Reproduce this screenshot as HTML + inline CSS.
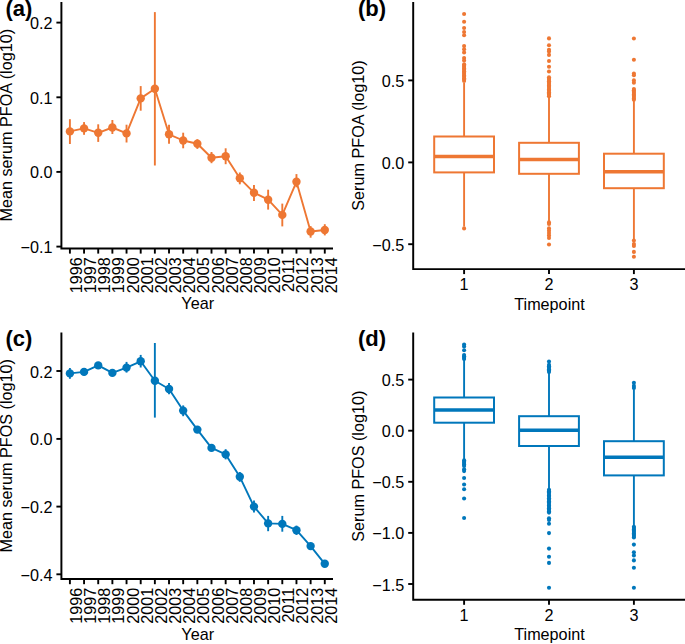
<!DOCTYPE html>
<html><head><meta charset="utf-8"><style>
html,body{margin:0;padding:0;background:#fff;width:685px;height:644px;overflow:hidden}
svg{display:block}
text{font-family:"Liberation Sans",sans-serif;fill:#000}
</style></head><body>
<svg width="685" height="644" viewBox="0 0 685 644">
<rect width="685" height="644" fill="#fff"/>
<path d="M61.4 2 V248.4 H333" fill="none" stroke="#000" stroke-width="1.95" stroke-linejoin="miter" stroke-linecap="butt"/>
<line x1="56.4" y1="22.6" x2="61.4" y2="22.6" stroke="#000" stroke-width="1.9"/>
<text x="52.4" y="29.1" text-anchor="end" font-size="16.2">0.2</text>
<line x1="56.4" y1="97.3" x2="61.4" y2="97.3" stroke="#000" stroke-width="1.9"/>
<text x="52.4" y="103.8" text-anchor="end" font-size="16.2">0.1</text>
<line x1="56.4" y1="171.9" x2="61.4" y2="171.9" stroke="#000" stroke-width="1.9"/>
<text x="52.4" y="178.4" text-anchor="end" font-size="16.2">0.0</text>
<line x1="56.4" y1="246.6" x2="61.4" y2="246.6" stroke="#000" stroke-width="1.9"/>
<text x="52.4" y="253.1" text-anchor="end" font-size="16.2">&#8722;0.1</text>
<line x1="69.9" y1="248.4" x2="69.9" y2="253.6" stroke="#000" stroke-width="1.9"/>
<text transform="translate(81.9,257.2) rotate(-90)" text-anchor="end" font-size="16.2">1996</text>
<line x1="84.06" y1="248.4" x2="84.06" y2="253.6" stroke="#000" stroke-width="1.9"/>
<text transform="translate(96.06,257.2) rotate(-90)" text-anchor="end" font-size="16.2">1997</text>
<line x1="98.22" y1="248.4" x2="98.22" y2="253.6" stroke="#000" stroke-width="1.9"/>
<text transform="translate(110.22,257.2) rotate(-90)" text-anchor="end" font-size="16.2">1998</text>
<line x1="112.38" y1="248.4" x2="112.38" y2="253.6" stroke="#000" stroke-width="1.9"/>
<text transform="translate(124.38,257.2) rotate(-90)" text-anchor="end" font-size="16.2">1999</text>
<line x1="126.54" y1="248.4" x2="126.54" y2="253.6" stroke="#000" stroke-width="1.9"/>
<text transform="translate(138.54,257.2) rotate(-90)" text-anchor="end" font-size="16.2">2000</text>
<line x1="140.7" y1="248.4" x2="140.7" y2="253.6" stroke="#000" stroke-width="1.9"/>
<text transform="translate(152.7,257.2) rotate(-90)" text-anchor="end" font-size="16.2">2001</text>
<line x1="154.86" y1="248.4" x2="154.86" y2="253.6" stroke="#000" stroke-width="1.9"/>
<text transform="translate(166.86,257.2) rotate(-90)" text-anchor="end" font-size="16.2">2002</text>
<line x1="169.02" y1="248.4" x2="169.02" y2="253.6" stroke="#000" stroke-width="1.9"/>
<text transform="translate(181.02,257.2) rotate(-90)" text-anchor="end" font-size="16.2">2003</text>
<line x1="183.18" y1="248.4" x2="183.18" y2="253.6" stroke="#000" stroke-width="1.9"/>
<text transform="translate(195.18,257.2) rotate(-90)" text-anchor="end" font-size="16.2">2004</text>
<line x1="197.34" y1="248.4" x2="197.34" y2="253.6" stroke="#000" stroke-width="1.9"/>
<text transform="translate(209.34,257.2) rotate(-90)" text-anchor="end" font-size="16.2">2005</text>
<line x1="211.5" y1="248.4" x2="211.5" y2="253.6" stroke="#000" stroke-width="1.9"/>
<text transform="translate(223.5,257.2) rotate(-90)" text-anchor="end" font-size="16.2">2006</text>
<line x1="225.66" y1="248.4" x2="225.66" y2="253.6" stroke="#000" stroke-width="1.9"/>
<text transform="translate(237.66,257.2) rotate(-90)" text-anchor="end" font-size="16.2">2007</text>
<line x1="239.82" y1="248.4" x2="239.82" y2="253.6" stroke="#000" stroke-width="1.9"/>
<text transform="translate(251.82,257.2) rotate(-90)" text-anchor="end" font-size="16.2">2008</text>
<line x1="253.98" y1="248.4" x2="253.98" y2="253.6" stroke="#000" stroke-width="1.9"/>
<text transform="translate(265.98,257.2) rotate(-90)" text-anchor="end" font-size="16.2">2009</text>
<line x1="268.14" y1="248.4" x2="268.14" y2="253.6" stroke="#000" stroke-width="1.9"/>
<text transform="translate(280.14,257.2) rotate(-90)" text-anchor="end" font-size="16.2">2010</text>
<line x1="282.3" y1="248.4" x2="282.3" y2="253.6" stroke="#000" stroke-width="1.9"/>
<text transform="translate(294.3,257.2) rotate(-90)" text-anchor="end" font-size="16.2">2011</text>
<line x1="296.46" y1="248.4" x2="296.46" y2="253.6" stroke="#000" stroke-width="1.9"/>
<text transform="translate(308.46,257.2) rotate(-90)" text-anchor="end" font-size="16.2">2012</text>
<line x1="310.62" y1="248.4" x2="310.62" y2="253.6" stroke="#000" stroke-width="1.9"/>
<text transform="translate(322.62,257.2) rotate(-90)" text-anchor="end" font-size="16.2">2013</text>
<line x1="324.78" y1="248.4" x2="324.78" y2="253.6" stroke="#000" stroke-width="1.9"/>
<text transform="translate(336.78,257.2) rotate(-90)" text-anchor="end" font-size="16.2">2014</text>
<text transform="translate(12,125.2) rotate(-90)" text-anchor="middle" font-size="16.2">Mean serum PFOA (log10)</text>
<text x="197.7" y="309.4" text-anchor="middle" font-size="16.2">Year</text>
<text x="5.5" y="15.7" text-anchor="start" font-size="22" font-weight="bold">(a)</text>
<path d="M69.9 131.4 L84.06 128.4 L98.22 132.8 L112.38 127.5 L126.54 133.4 L140.7 98.4 L154.86 88.8 L169.02 134.3 L183.18 140.5 L197.34 143.8 L211.5 157.8 L225.66 156.3 L239.82 178.3 L253.98 192.7 L268.14 199.7 L282.3 214.9 L296.46 181.8 L310.62 231.5 L324.78 230" fill="none" stroke="#EE7733" stroke-width="1.9" stroke-linejoin="round"/>
<line x1="69.9" y1="119.2" x2="69.9" y2="144" stroke="#EE7733" stroke-width="1.9"/>
<circle cx="69.9" cy="131.4" r="4.2" fill="#EE7733"/>
<line x1="84.06" y1="122.1" x2="84.06" y2="134.8" stroke="#EE7733" stroke-width="1.9"/>
<circle cx="84.06" cy="128.4" r="4.2" fill="#EE7733"/>
<line x1="98.22" y1="124.3" x2="98.22" y2="141.9" stroke="#EE7733" stroke-width="1.9"/>
<circle cx="98.22" cy="132.8" r="4.2" fill="#EE7733"/>
<line x1="112.38" y1="120" x2="112.38" y2="134" stroke="#EE7733" stroke-width="1.9"/>
<circle cx="112.38" cy="127.5" r="4.2" fill="#EE7733"/>
<line x1="126.54" y1="124.7" x2="126.54" y2="142.5" stroke="#EE7733" stroke-width="1.9"/>
<circle cx="126.54" cy="133.4" r="4.2" fill="#EE7733"/>
<line x1="140.7" y1="86.1" x2="140.7" y2="110.7" stroke="#EE7733" stroke-width="1.9"/>
<circle cx="140.7" cy="98.4" r="4.2" fill="#EE7733"/>
<line x1="154.86" y1="12.1" x2="154.86" y2="165.5" stroke="#EE7733" stroke-width="1.9"/>
<circle cx="154.86" cy="88.8" r="4.2" fill="#EE7733"/>
<line x1="169.02" y1="124.7" x2="169.02" y2="143.8" stroke="#EE7733" stroke-width="1.9"/>
<circle cx="169.02" cy="134.3" r="4.2" fill="#EE7733"/>
<line x1="183.18" y1="132.7" x2="183.18" y2="148.3" stroke="#EE7733" stroke-width="1.9"/>
<circle cx="183.18" cy="140.5" r="4.2" fill="#EE7733"/>
<line x1="197.34" y1="139.2" x2="197.34" y2="148.9" stroke="#EE7733" stroke-width="1.9"/>
<circle cx="197.34" cy="143.8" r="4.2" fill="#EE7733"/>
<line x1="211.5" y1="152" x2="211.5" y2="163.2" stroke="#EE7733" stroke-width="1.9"/>
<circle cx="211.5" cy="157.8" r="4.2" fill="#EE7733"/>
<line x1="225.66" y1="148.3" x2="225.66" y2="164.2" stroke="#EE7733" stroke-width="1.9"/>
<circle cx="225.66" cy="156.3" r="4.2" fill="#EE7733"/>
<line x1="239.82" y1="172.5" x2="239.82" y2="184.3" stroke="#EE7733" stroke-width="1.9"/>
<circle cx="239.82" cy="178.3" r="4.2" fill="#EE7733"/>
<line x1="253.98" y1="184.9" x2="253.98" y2="200.9" stroke="#EE7733" stroke-width="1.9"/>
<circle cx="253.98" cy="192.7" r="4.2" fill="#EE7733"/>
<line x1="268.14" y1="189.7" x2="268.14" y2="209.6" stroke="#EE7733" stroke-width="1.9"/>
<circle cx="268.14" cy="199.7" r="4.2" fill="#EE7733"/>
<line x1="282.3" y1="203.6" x2="282.3" y2="226.4" stroke="#EE7733" stroke-width="1.9"/>
<circle cx="282.3" cy="214.9" r="4.2" fill="#EE7733"/>
<line x1="296.46" y1="174.1" x2="296.46" y2="187.3" stroke="#EE7733" stroke-width="1.9"/>
<circle cx="296.46" cy="181.8" r="4.2" fill="#EE7733"/>
<line x1="310.62" y1="226.1" x2="310.62" y2="237.7" stroke="#EE7733" stroke-width="1.9"/>
<circle cx="310.62" cy="231.5" r="4.2" fill="#EE7733"/>
<line x1="324.78" y1="224.2" x2="324.78" y2="235.4" stroke="#EE7733" stroke-width="1.9"/>
<circle cx="324.78" cy="230" r="4.2" fill="#EE7733"/>
<path d="M61.4 332.6 V579 H333" fill="none" stroke="#000" stroke-width="1.95" stroke-linejoin="miter" stroke-linecap="butt"/>
<line x1="56.4" y1="371" x2="61.4" y2="371" stroke="#000" stroke-width="1.9"/>
<text x="52.4" y="377.5" text-anchor="end" font-size="16.2">0.2</text>
<line x1="56.4" y1="438.9" x2="61.4" y2="438.9" stroke="#000" stroke-width="1.9"/>
<text x="52.4" y="445.4" text-anchor="end" font-size="16.2">0.0</text>
<line x1="56.4" y1="506.6" x2="61.4" y2="506.6" stroke="#000" stroke-width="1.9"/>
<text x="52.4" y="513.1" text-anchor="end" font-size="16.2">&#8722;0.2</text>
<line x1="56.4" y1="574.3" x2="61.4" y2="574.3" stroke="#000" stroke-width="1.9"/>
<text x="52.4" y="580.8" text-anchor="end" font-size="16.2">&#8722;0.4</text>
<line x1="69.9" y1="579" x2="69.9" y2="584.2" stroke="#000" stroke-width="1.9"/>
<text transform="translate(81.9,587.8) rotate(-90)" text-anchor="end" font-size="16.2">1996</text>
<line x1="84.06" y1="579" x2="84.06" y2="584.2" stroke="#000" stroke-width="1.9"/>
<text transform="translate(96.06,587.8) rotate(-90)" text-anchor="end" font-size="16.2">1997</text>
<line x1="98.22" y1="579" x2="98.22" y2="584.2" stroke="#000" stroke-width="1.9"/>
<text transform="translate(110.22,587.8) rotate(-90)" text-anchor="end" font-size="16.2">1998</text>
<line x1="112.38" y1="579" x2="112.38" y2="584.2" stroke="#000" stroke-width="1.9"/>
<text transform="translate(124.38,587.8) rotate(-90)" text-anchor="end" font-size="16.2">1999</text>
<line x1="126.54" y1="579" x2="126.54" y2="584.2" stroke="#000" stroke-width="1.9"/>
<text transform="translate(138.54,587.8) rotate(-90)" text-anchor="end" font-size="16.2">2000</text>
<line x1="140.7" y1="579" x2="140.7" y2="584.2" stroke="#000" stroke-width="1.9"/>
<text transform="translate(152.7,587.8) rotate(-90)" text-anchor="end" font-size="16.2">2001</text>
<line x1="154.86" y1="579" x2="154.86" y2="584.2" stroke="#000" stroke-width="1.9"/>
<text transform="translate(166.86,587.8) rotate(-90)" text-anchor="end" font-size="16.2">2002</text>
<line x1="169.02" y1="579" x2="169.02" y2="584.2" stroke="#000" stroke-width="1.9"/>
<text transform="translate(181.02,587.8) rotate(-90)" text-anchor="end" font-size="16.2">2003</text>
<line x1="183.18" y1="579" x2="183.18" y2="584.2" stroke="#000" stroke-width="1.9"/>
<text transform="translate(195.18,587.8) rotate(-90)" text-anchor="end" font-size="16.2">2004</text>
<line x1="197.34" y1="579" x2="197.34" y2="584.2" stroke="#000" stroke-width="1.9"/>
<text transform="translate(209.34,587.8) rotate(-90)" text-anchor="end" font-size="16.2">2005</text>
<line x1="211.5" y1="579" x2="211.5" y2="584.2" stroke="#000" stroke-width="1.9"/>
<text transform="translate(223.5,587.8) rotate(-90)" text-anchor="end" font-size="16.2">2006</text>
<line x1="225.66" y1="579" x2="225.66" y2="584.2" stroke="#000" stroke-width="1.9"/>
<text transform="translate(237.66,587.8) rotate(-90)" text-anchor="end" font-size="16.2">2007</text>
<line x1="239.82" y1="579" x2="239.82" y2="584.2" stroke="#000" stroke-width="1.9"/>
<text transform="translate(251.82,587.8) rotate(-90)" text-anchor="end" font-size="16.2">2008</text>
<line x1="253.98" y1="579" x2="253.98" y2="584.2" stroke="#000" stroke-width="1.9"/>
<text transform="translate(265.98,587.8) rotate(-90)" text-anchor="end" font-size="16.2">2009</text>
<line x1="268.14" y1="579" x2="268.14" y2="584.2" stroke="#000" stroke-width="1.9"/>
<text transform="translate(280.14,587.8) rotate(-90)" text-anchor="end" font-size="16.2">2010</text>
<line x1="282.3" y1="579" x2="282.3" y2="584.2" stroke="#000" stroke-width="1.9"/>
<text transform="translate(294.3,587.8) rotate(-90)" text-anchor="end" font-size="16.2">2011</text>
<line x1="296.46" y1="579" x2="296.46" y2="584.2" stroke="#000" stroke-width="1.9"/>
<text transform="translate(308.46,587.8) rotate(-90)" text-anchor="end" font-size="16.2">2012</text>
<line x1="310.62" y1="579" x2="310.62" y2="584.2" stroke="#000" stroke-width="1.9"/>
<text transform="translate(322.62,587.8) rotate(-90)" text-anchor="end" font-size="16.2">2013</text>
<line x1="324.78" y1="579" x2="324.78" y2="584.2" stroke="#000" stroke-width="1.9"/>
<text transform="translate(336.78,587.8) rotate(-90)" text-anchor="end" font-size="16.2">2014</text>
<text transform="translate(12,455.8) rotate(-90)" text-anchor="middle" font-size="16.2">Mean serum PFOS (log10)</text>
<text x="197.7" y="640" text-anchor="middle" font-size="16.2">Year</text>
<text x="5.5" y="346.3" text-anchor="start" font-size="22" font-weight="bold">(c)</text>
<path d="M69.9 373.4 L84.06 371.9 L98.22 365.4 L112.38 372.9 L126.54 367.6 L140.7 361.3 L154.86 380.7 L169.02 389 L183.18 410.6 L197.34 429.6 L211.5 447.9 L225.66 454.4 L239.82 476.8 L253.98 506.6 L268.14 523.4 L282.3 523.9 L296.46 530.2 L310.62 546.1 L324.78 563.8" fill="none" stroke="#0077BB" stroke-width="1.9" stroke-linejoin="round"/>
<line x1="69.9" y1="368" x2="69.9" y2="378.8" stroke="#0077BB" stroke-width="1.9"/>
<circle cx="69.9" cy="373.4" r="4.2" fill="#0077BB"/>
<line x1="84.06" y1="368.5" x2="84.06" y2="375.5" stroke="#0077BB" stroke-width="1.9"/>
<circle cx="84.06" cy="371.9" r="4.2" fill="#0077BB"/>
<line x1="98.22" y1="362.5" x2="98.22" y2="368.5" stroke="#0077BB" stroke-width="1.9"/>
<circle cx="98.22" cy="365.4" r="4.2" fill="#0077BB"/>
<line x1="112.38" y1="370" x2="112.38" y2="375.8" stroke="#0077BB" stroke-width="1.9"/>
<circle cx="112.38" cy="372.9" r="4.2" fill="#0077BB"/>
<line x1="126.54" y1="361.9" x2="126.54" y2="372.6" stroke="#0077BB" stroke-width="1.9"/>
<circle cx="126.54" cy="367.6" r="4.2" fill="#0077BB"/>
<line x1="140.7" y1="354.9" x2="140.7" y2="367.5" stroke="#0077BB" stroke-width="1.9"/>
<circle cx="140.7" cy="361.3" r="4.2" fill="#0077BB"/>
<line x1="154.86" y1="343" x2="154.86" y2="417.6" stroke="#0077BB" stroke-width="1.9"/>
<circle cx="154.86" cy="380.7" r="4.2" fill="#0077BB"/>
<line x1="169.02" y1="383" x2="169.02" y2="394.2" stroke="#0077BB" stroke-width="1.9"/>
<circle cx="169.02" cy="389" r="4.2" fill="#0077BB"/>
<line x1="183.18" y1="405.4" x2="183.18" y2="416.2" stroke="#0077BB" stroke-width="1.9"/>
<circle cx="183.18" cy="410.6" r="4.2" fill="#0077BB"/>
<line x1="197.34" y1="426" x2="197.34" y2="433" stroke="#0077BB" stroke-width="1.9"/>
<circle cx="197.34" cy="429.6" r="4.2" fill="#0077BB"/>
<line x1="211.5" y1="444.5" x2="211.5" y2="451" stroke="#0077BB" stroke-width="1.9"/>
<circle cx="211.5" cy="447.9" r="4.2" fill="#0077BB"/>
<line x1="225.66" y1="449.2" x2="225.66" y2="459.4" stroke="#0077BB" stroke-width="1.9"/>
<circle cx="225.66" cy="454.4" r="4.2" fill="#0077BB"/>
<line x1="239.82" y1="472" x2="239.82" y2="481.8" stroke="#0077BB" stroke-width="1.9"/>
<circle cx="239.82" cy="476.8" r="4.2" fill="#0077BB"/>
<line x1="253.98" y1="500.6" x2="253.98" y2="512.5" stroke="#0077BB" stroke-width="1.9"/>
<circle cx="253.98" cy="506.6" r="4.2" fill="#0077BB"/>
<line x1="268.14" y1="515.9" x2="268.14" y2="531.2" stroke="#0077BB" stroke-width="1.9"/>
<circle cx="268.14" cy="523.4" r="4.2" fill="#0077BB"/>
<line x1="282.3" y1="515.9" x2="282.3" y2="531.7" stroke="#0077BB" stroke-width="1.9"/>
<circle cx="282.3" cy="523.9" r="4.2" fill="#0077BB"/>
<line x1="296.46" y1="525.6" x2="296.46" y2="534.9" stroke="#0077BB" stroke-width="1.9"/>
<circle cx="296.46" cy="530.2" r="4.2" fill="#0077BB"/>
<line x1="310.62" y1="543" x2="310.62" y2="549" stroke="#0077BB" stroke-width="1.9"/>
<circle cx="310.62" cy="546.1" r="4.2" fill="#0077BB"/>
<line x1="324.78" y1="561" x2="324.78" y2="566.5" stroke="#0077BB" stroke-width="1.9"/>
<circle cx="324.78" cy="563.8" r="4.2" fill="#0077BB"/>
<path d="M413.2 2 V269.1 H685" fill="none" stroke="#000" stroke-width="1.95" stroke-linejoin="miter" stroke-linecap="butt"/>
<line x1="408.2" y1="80.4" x2="413.2" y2="80.4" stroke="#000" stroke-width="1.9"/>
<text x="404.2" y="86.9" text-anchor="end" font-size="16.2">0.5</text>
<line x1="408.2" y1="162.4" x2="413.2" y2="162.4" stroke="#000" stroke-width="1.9"/>
<text x="404.2" y="168.9" text-anchor="end" font-size="16.2">0.0</text>
<line x1="408.2" y1="244.2" x2="413.2" y2="244.2" stroke="#000" stroke-width="1.9"/>
<text x="404.2" y="250.7" text-anchor="end" font-size="16.2">&#8722;0.5</text>
<line x1="464.1" y1="269.1" x2="464.1" y2="274.1" stroke="#000" stroke-width="1.9"/>
<text x="464.1" y="289.9" text-anchor="middle" font-size="16.2">1</text>
<line x1="464.1" y1="83" x2="464.1" y2="136.5" stroke="#EE7733" stroke-width="1.9"/>
<line x1="464.1" y1="172.4" x2="464.1" y2="226.5" stroke="#EE7733" stroke-width="1.9"/>
<rect x="434.2" y="136.5" width="59.8" height="35.9" fill="none" stroke="#EE7733" stroke-width="2"/>
<line x1="434.2" y1="156.6" x2="494" y2="156.6" stroke="#EE7733" stroke-width="3.5"/>
<circle cx="464.1" cy="14" r="2.05" fill="#EE7733"/>
<circle cx="464.1" cy="21.7" r="2.05" fill="#EE7733"/>
<circle cx="464.1" cy="28" r="2.05" fill="#EE7733"/>
<circle cx="464.1" cy="32" r="2.05" fill="#EE7733"/>
<circle cx="464.1" cy="35.2" r="2.05" fill="#EE7733"/>
<circle cx="464.1" cy="46.1" r="2.05" fill="#EE7733"/>
<circle cx="464.1" cy="49.2" r="2.05" fill="#EE7733"/>
<circle cx="464.1" cy="52.4" r="2.05" fill="#EE7733"/>
<circle cx="464.1" cy="58" r="2.05" fill="#EE7733"/>
<circle cx="464.1" cy="60.4" r="2.05" fill="#EE7733"/>
<circle cx="464.1" cy="64.3" r="2.05" fill="#EE7733"/>
<circle cx="464.1" cy="65.69" r="2.05" fill="#EE7733"/>
<circle cx="464.1" cy="67.08" r="2.05" fill="#EE7733"/>
<circle cx="464.1" cy="68.47" r="2.05" fill="#EE7733"/>
<circle cx="464.1" cy="69.87" r="2.05" fill="#EE7733"/>
<circle cx="464.1" cy="71.26" r="2.05" fill="#EE7733"/>
<circle cx="464.1" cy="72.65" r="2.05" fill="#EE7733"/>
<circle cx="464.1" cy="74.04" r="2.05" fill="#EE7733"/>
<circle cx="464.1" cy="75.43" r="2.05" fill="#EE7733"/>
<circle cx="464.1" cy="76.83" r="2.05" fill="#EE7733"/>
<circle cx="464.1" cy="78.22" r="2.05" fill="#EE7733"/>
<circle cx="464.1" cy="79.61" r="2.05" fill="#EE7733"/>
<circle cx="464.1" cy="81" r="2.05" fill="#EE7733"/>
<circle cx="464.1" cy="228.4" r="2.05" fill="#EE7733"/>
<line x1="549" y1="269.1" x2="549" y2="274.1" stroke="#000" stroke-width="1.9"/>
<text x="549" y="289.9" text-anchor="middle" font-size="16.2">2</text>
<line x1="549" y1="97" x2="549" y2="142.8" stroke="#EE7733" stroke-width="1.9"/>
<line x1="549" y1="173.8" x2="549" y2="221" stroke="#EE7733" stroke-width="1.9"/>
<rect x="519.1" y="142.8" width="59.8" height="31" fill="none" stroke="#EE7733" stroke-width="2"/>
<line x1="519.1" y1="159.5" x2="578.9" y2="159.5" stroke="#EE7733" stroke-width="3.5"/>
<circle cx="549" cy="38.4" r="2.05" fill="#EE7733"/>
<circle cx="549" cy="45.2" r="2.05" fill="#EE7733"/>
<circle cx="549" cy="49.7" r="2.05" fill="#EE7733"/>
<circle cx="549" cy="51.5" r="2.05" fill="#EE7733"/>
<circle cx="549" cy="54.9" r="2.05" fill="#EE7733"/>
<circle cx="549" cy="61" r="2.05" fill="#EE7733"/>
<circle cx="549" cy="66.8" r="2.05" fill="#EE7733"/>
<circle cx="549" cy="71.5" r="2.05" fill="#EE7733"/>
<circle cx="549" cy="77.3" r="2.05" fill="#EE7733"/>
<circle cx="549" cy="78.65" r="2.05" fill="#EE7733"/>
<circle cx="549" cy="80" r="2.05" fill="#EE7733"/>
<circle cx="549" cy="81.35" r="2.05" fill="#EE7733"/>
<circle cx="549" cy="82.7" r="2.05" fill="#EE7733"/>
<circle cx="549" cy="84.05" r="2.05" fill="#EE7733"/>
<circle cx="549" cy="85.4" r="2.05" fill="#EE7733"/>
<circle cx="549" cy="86.75" r="2.05" fill="#EE7733"/>
<circle cx="549" cy="88.1" r="2.05" fill="#EE7733"/>
<circle cx="549" cy="89.45" r="2.05" fill="#EE7733"/>
<circle cx="549" cy="90.8" r="2.05" fill="#EE7733"/>
<circle cx="549" cy="92.15" r="2.05" fill="#EE7733"/>
<circle cx="549" cy="93.5" r="2.05" fill="#EE7733"/>
<circle cx="549" cy="94.85" r="2.05" fill="#EE7733"/>
<circle cx="549" cy="96.2" r="2.05" fill="#EE7733"/>
<circle cx="549" cy="222.4" r="2.05" fill="#EE7733"/>
<circle cx="549" cy="224" r="2.05" fill="#EE7733"/>
<circle cx="549" cy="228.4" r="2.05" fill="#EE7733"/>
<circle cx="549" cy="230.8" r="2.05" fill="#EE7733"/>
<circle cx="549" cy="233.1" r="2.05" fill="#EE7733"/>
<circle cx="549" cy="235.4" r="2.05" fill="#EE7733"/>
<circle cx="549" cy="238" r="2.05" fill="#EE7733"/>
<circle cx="549" cy="244.5" r="2.05" fill="#EE7733"/>
<line x1="633.9" y1="269.1" x2="633.9" y2="274.1" stroke="#000" stroke-width="1.9"/>
<text x="633.9" y="289.9" text-anchor="middle" font-size="16.2">3</text>
<line x1="633.9" y1="100" x2="633.9" y2="153.7" stroke="#EE7733" stroke-width="1.9"/>
<line x1="633.9" y1="188.2" x2="633.9" y2="239.4" stroke="#EE7733" stroke-width="1.9"/>
<rect x="604" y="153.7" width="59.8" height="34.5" fill="none" stroke="#EE7733" stroke-width="2"/>
<line x1="604" y1="171.7" x2="663.8" y2="171.7" stroke="#EE7733" stroke-width="3.5"/>
<circle cx="633.9" cy="38.5" r="2.05" fill="#EE7733"/>
<circle cx="633.9" cy="59.8" r="2.05" fill="#EE7733"/>
<circle cx="633.9" cy="73.5" r="2.05" fill="#EE7733"/>
<circle cx="633.9" cy="75.3" r="2.05" fill="#EE7733"/>
<circle cx="633.9" cy="80.4" r="2.05" fill="#EE7733"/>
<circle cx="633.9" cy="82.8" r="2.05" fill="#EE7733"/>
<circle cx="633.9" cy="89" r="2.05" fill="#EE7733"/>
<circle cx="633.9" cy="90.35" r="2.05" fill="#EE7733"/>
<circle cx="633.9" cy="91.7" r="2.05" fill="#EE7733"/>
<circle cx="633.9" cy="93.05" r="2.05" fill="#EE7733"/>
<circle cx="633.9" cy="94.4" r="2.05" fill="#EE7733"/>
<circle cx="633.9" cy="95.75" r="2.05" fill="#EE7733"/>
<circle cx="633.9" cy="97.1" r="2.05" fill="#EE7733"/>
<circle cx="633.9" cy="98.45" r="2.05" fill="#EE7733"/>
<circle cx="633.9" cy="99.8" r="2.05" fill="#EE7733"/>
<circle cx="633.9" cy="240.6" r="2.05" fill="#EE7733"/>
<circle cx="633.9" cy="244" r="2.05" fill="#EE7733"/>
<circle cx="633.9" cy="245.9" r="2.05" fill="#EE7733"/>
<circle cx="633.9" cy="251.9" r="2.05" fill="#EE7733"/>
<circle cx="633.9" cy="256.8" r="2.05" fill="#EE7733"/>
<text x="549.5" y="309.5" text-anchor="middle" font-size="16.2">Timepoint</text>
<text transform="translate(364,135.55) rotate(-90)" text-anchor="middle" font-size="16.2">Serum PFOA (log10)</text>
<text x="358" y="15.7" text-anchor="start" font-size="22" font-weight="bold">(b)</text>
<path d="M413.2 332.6 V599.8 H685" fill="none" stroke="#000" stroke-width="1.95" stroke-linejoin="miter" stroke-linecap="butt"/>
<line x1="408.2" y1="379.6" x2="413.2" y2="379.6" stroke="#000" stroke-width="1.9"/>
<text x="404.2" y="386.1" text-anchor="end" font-size="16.2">0.5</text>
<line x1="408.2" y1="430.7" x2="413.2" y2="430.7" stroke="#000" stroke-width="1.9"/>
<text x="404.2" y="437.2" text-anchor="end" font-size="16.2">0.0</text>
<line x1="408.2" y1="481.8" x2="413.2" y2="481.8" stroke="#000" stroke-width="1.9"/>
<text x="404.2" y="488.3" text-anchor="end" font-size="16.2">&#8722;0.5</text>
<line x1="408.2" y1="532.9" x2="413.2" y2="532.9" stroke="#000" stroke-width="1.9"/>
<text x="404.2" y="539.4" text-anchor="end" font-size="16.2">&#8722;1.0</text>
<line x1="408.2" y1="584" x2="413.2" y2="584" stroke="#000" stroke-width="1.9"/>
<text x="404.2" y="590.5" text-anchor="end" font-size="16.2">&#8722;1.5</text>
<line x1="464.1" y1="599.8" x2="464.1" y2="604.8" stroke="#000" stroke-width="1.9"/>
<text x="464.1" y="620.6" text-anchor="middle" font-size="16.2">1</text>
<line x1="464.1" y1="360" x2="464.1" y2="397.5" stroke="#0077BB" stroke-width="1.9"/>
<line x1="464.1" y1="422.7" x2="464.1" y2="459.4" stroke="#0077BB" stroke-width="1.9"/>
<rect x="434.2" y="397.5" width="59.8" height="25.2" fill="none" stroke="#0077BB" stroke-width="2"/>
<line x1="434.2" y1="409.9" x2="494" y2="409.9" stroke="#0077BB" stroke-width="3.5"/>
<circle cx="464.1" cy="344.5" r="2.05" fill="#0077BB"/>
<circle cx="464.1" cy="346.5" r="2.05" fill="#0077BB"/>
<circle cx="464.1" cy="350.2" r="2.05" fill="#0077BB"/>
<circle cx="464.1" cy="355" r="2.05" fill="#0077BB"/>
<circle cx="464.1" cy="356.33" r="2.05" fill="#0077BB"/>
<circle cx="464.1" cy="357.67" r="2.05" fill="#0077BB"/>
<circle cx="464.1" cy="359" r="2.05" fill="#0077BB"/>
<circle cx="464.1" cy="460.3" r="2.05" fill="#0077BB"/>
<circle cx="464.1" cy="461.7" r="2.05" fill="#0077BB"/>
<circle cx="464.1" cy="463.1" r="2.05" fill="#0077BB"/>
<circle cx="464.1" cy="464.5" r="2.05" fill="#0077BB"/>
<circle cx="464.1" cy="465.9" r="2.05" fill="#0077BB"/>
<circle cx="464.1" cy="469.3" r="2.05" fill="#0077BB"/>
<circle cx="464.1" cy="471.1" r="2.05" fill="#0077BB"/>
<circle cx="464.1" cy="478" r="2.05" fill="#0077BB"/>
<circle cx="464.1" cy="484.5" r="2.05" fill="#0077BB"/>
<circle cx="464.1" cy="489.2" r="2.05" fill="#0077BB"/>
<circle cx="464.1" cy="498.5" r="2.05" fill="#0077BB"/>
<circle cx="464.1" cy="518" r="2.05" fill="#0077BB"/>
<line x1="549" y1="599.8" x2="549" y2="604.8" stroke="#000" stroke-width="1.9"/>
<text x="549" y="620.6" text-anchor="middle" font-size="16.2">2</text>
<line x1="549" y1="372" x2="549" y2="416.2" stroke="#0077BB" stroke-width="1.9"/>
<line x1="549" y1="446" x2="549" y2="489.5" stroke="#0077BB" stroke-width="1.9"/>
<rect x="519.1" y="416.2" width="59.8" height="29.8" fill="none" stroke="#0077BB" stroke-width="2"/>
<line x1="519.1" y1="430.2" x2="578.9" y2="430.2" stroke="#0077BB" stroke-width="3.5"/>
<circle cx="549" cy="361.6" r="2.05" fill="#0077BB"/>
<circle cx="549" cy="364.9" r="2.05" fill="#0077BB"/>
<circle cx="549" cy="366.32" r="2.05" fill="#0077BB"/>
<circle cx="549" cy="367.74" r="2.05" fill="#0077BB"/>
<circle cx="549" cy="369.16" r="2.05" fill="#0077BB"/>
<circle cx="549" cy="370.58" r="2.05" fill="#0077BB"/>
<circle cx="549" cy="372" r="2.05" fill="#0077BB"/>
<circle cx="549" cy="489.7" r="2.05" fill="#0077BB"/>
<circle cx="549" cy="491.13" r="2.05" fill="#0077BB"/>
<circle cx="549" cy="492.56" r="2.05" fill="#0077BB"/>
<circle cx="549" cy="493.99" r="2.05" fill="#0077BB"/>
<circle cx="549" cy="495.43" r="2.05" fill="#0077BB"/>
<circle cx="549" cy="496.86" r="2.05" fill="#0077BB"/>
<circle cx="549" cy="498.29" r="2.05" fill="#0077BB"/>
<circle cx="549" cy="499.72" r="2.05" fill="#0077BB"/>
<circle cx="549" cy="501.15" r="2.05" fill="#0077BB"/>
<circle cx="549" cy="502.58" r="2.05" fill="#0077BB"/>
<circle cx="549" cy="504.01" r="2.05" fill="#0077BB"/>
<circle cx="549" cy="505.44" r="2.05" fill="#0077BB"/>
<circle cx="549" cy="506.88" r="2.05" fill="#0077BB"/>
<circle cx="549" cy="508.31" r="2.05" fill="#0077BB"/>
<circle cx="549" cy="509.74" r="2.05" fill="#0077BB"/>
<circle cx="549" cy="511.17" r="2.05" fill="#0077BB"/>
<circle cx="549" cy="512.6" r="2.05" fill="#0077BB"/>
<circle cx="549" cy="518.2" r="2.05" fill="#0077BB"/>
<circle cx="549" cy="520" r="2.05" fill="#0077BB"/>
<circle cx="549" cy="523.8" r="2.05" fill="#0077BB"/>
<circle cx="549" cy="533.1" r="2.05" fill="#0077BB"/>
<circle cx="549" cy="548.6" r="2.05" fill="#0077BB"/>
<circle cx="549" cy="556.8" r="2.05" fill="#0077BB"/>
<circle cx="549" cy="562.9" r="2.05" fill="#0077BB"/>
<circle cx="549" cy="587.7" r="2.05" fill="#0077BB"/>
<line x1="633.9" y1="599.8" x2="633.9" y2="604.8" stroke="#000" stroke-width="1.9"/>
<text x="633.9" y="620.6" text-anchor="middle" font-size="16.2">3</text>
<line x1="633.9" y1="390" x2="633.9" y2="441.2" stroke="#0077BB" stroke-width="1.9"/>
<line x1="633.9" y1="475.4" x2="633.9" y2="526.3" stroke="#0077BB" stroke-width="1.9"/>
<rect x="604" y="441.2" width="59.8" height="34.2" fill="none" stroke="#0077BB" stroke-width="2"/>
<line x1="604" y1="457.3" x2="663.8" y2="457.3" stroke="#0077BB" stroke-width="3.5"/>
<circle cx="633.9" cy="382.7" r="2.05" fill="#0077BB"/>
<circle cx="633.9" cy="385.9" r="2.05" fill="#0077BB"/>
<circle cx="633.9" cy="388.1" r="2.05" fill="#0077BB"/>
<circle cx="633.9" cy="526.8" r="2.05" fill="#0077BB"/>
<circle cx="633.9" cy="528.12" r="2.05" fill="#0077BB"/>
<circle cx="633.9" cy="529.45" r="2.05" fill="#0077BB"/>
<circle cx="633.9" cy="530.77" r="2.05" fill="#0077BB"/>
<circle cx="633.9" cy="532.1" r="2.05" fill="#0077BB"/>
<circle cx="633.9" cy="533.42" r="2.05" fill="#0077BB"/>
<circle cx="633.9" cy="534.75" r="2.05" fill="#0077BB"/>
<circle cx="633.9" cy="536.07" r="2.05" fill="#0077BB"/>
<circle cx="633.9" cy="537.4" r="2.05" fill="#0077BB"/>
<circle cx="633.9" cy="544.6" r="2.05" fill="#0077BB"/>
<circle cx="633.9" cy="552.3" r="2.05" fill="#0077BB"/>
<circle cx="633.9" cy="555.4" r="2.05" fill="#0077BB"/>
<circle cx="633.9" cy="560.4" r="2.05" fill="#0077BB"/>
<circle cx="633.9" cy="567.8" r="2.05" fill="#0077BB"/>
<circle cx="633.9" cy="587.7" r="2.05" fill="#0077BB"/>
<text x="549.5" y="640.2" text-anchor="middle" font-size="16.2">Timepoint</text>
<text transform="translate(364,466.2) rotate(-90)" text-anchor="middle" font-size="16.2">Serum PFOS (log10)</text>
<text x="358" y="346.3" text-anchor="start" font-size="22" font-weight="bold">(d)</text>
</svg>
</body></html>
